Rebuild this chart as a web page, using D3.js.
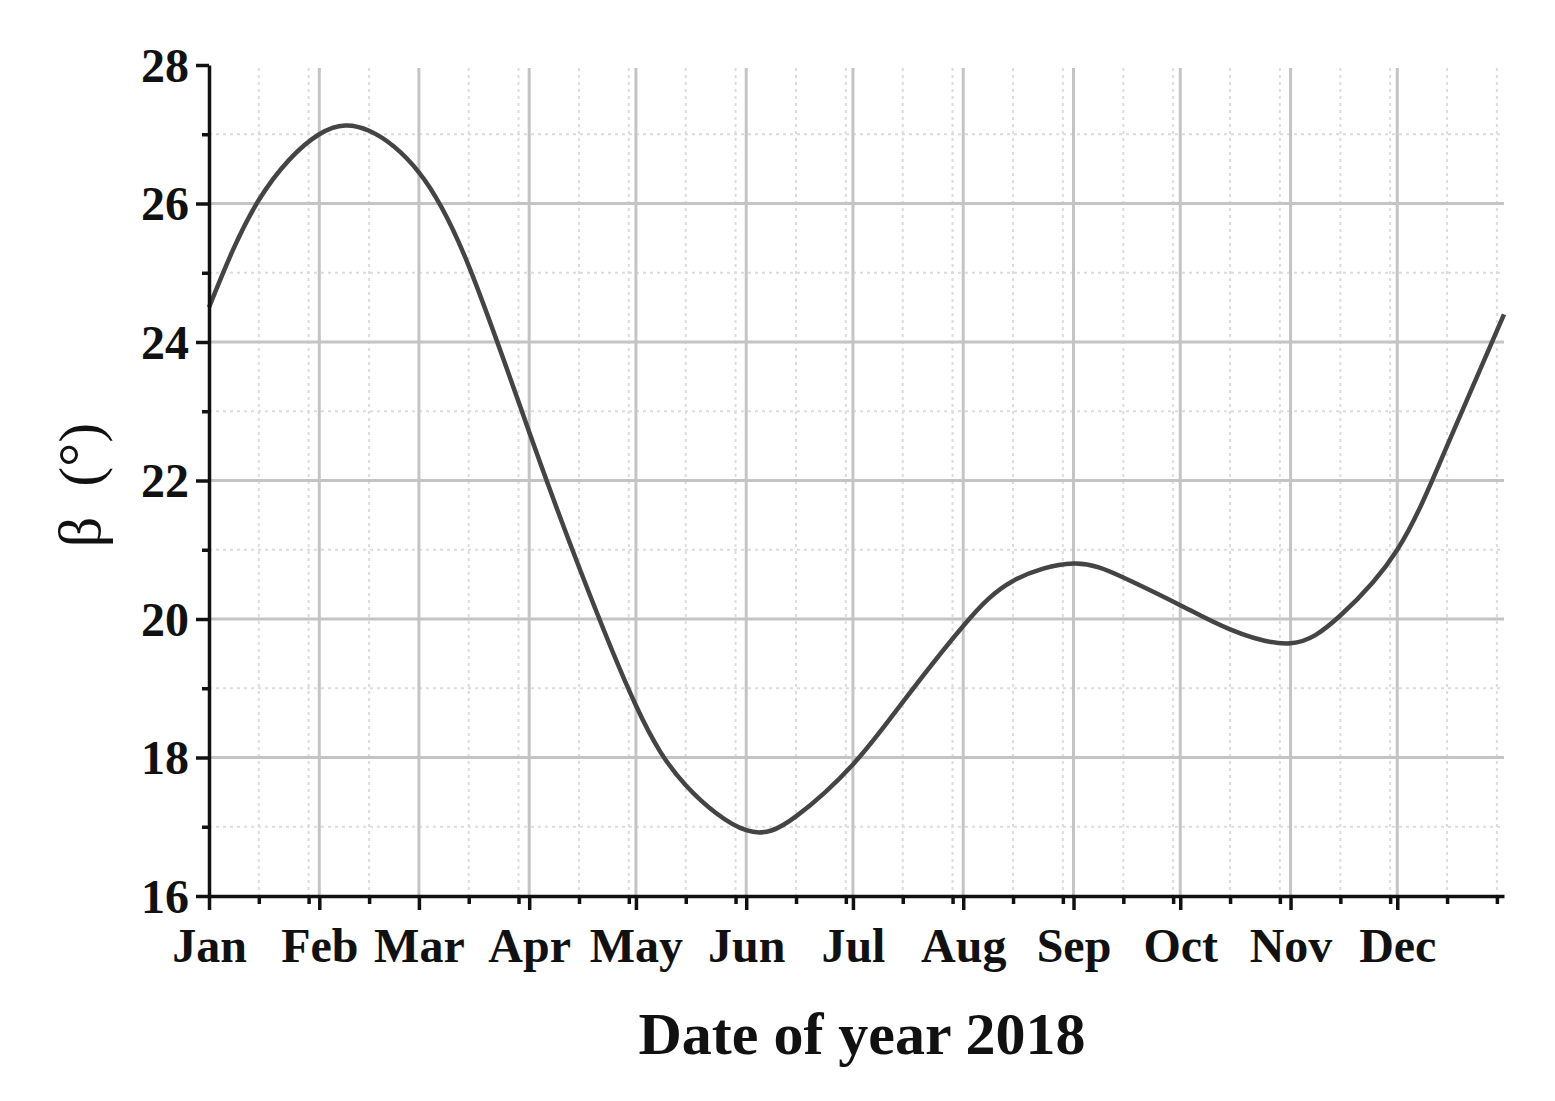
<!DOCTYPE html>
<html>
<head>
<meta charset="utf-8">
<script src="https://cdn.jsdelivr.net/npm/d3@7"></script>
<style>
  html, body { margin: 0; padding: 0; background: #fff; }
  svg { display: block; }
</style>
</head>
<body>
<svg id="chart" width="1555" height="1101"></svg>
<script>
// ---- data ----
const dates = [
  "2018-01-01","2018-01-15","2018-02-01","2018-02-15","2018-03-01","2018-03-15",
  "2018-04-01","2018-04-15","2018-05-01","2018-05-15","2018-06-01","2018-06-15",
  "2018-07-01","2018-07-15","2018-08-01","2018-08-15","2018-09-01","2018-09-15",
  "2018-10-01","2018-10-15","2018-11-01","2018-11-15","2018-12-01","2018-12-15","2018-12-31"
];
const betaValues = [
  24.5, 26.05, 27.0, 27.05, 26.45, 25.1,
  22.7, 20.75, 18.75, 17.6, 16.95, 17.15,
  17.9, 18.8, 19.9, 20.55, 20.8, 20.6,
  20.2, 19.85, 19.65, 20.05, 21.0, 22.5, 24.4
];
const monthLabels = ["Jan","Feb","Mar","Apr","May","Jun","Jul","Aug","Sep","Oct","Nov","Dec"];
const yTicks = [16, 18, 20, 22, 24, 26, 28];
const yMinorTicks = [17, 19, 21, 23, 25, 27];
const xTitle = "Date of year 2018";
const yTitle = "β  (°)";

(function () {
// ---- layout ----
const svg = d3.select("#chart");
const pLeft = 209, pRight = 1504, pTop = 65, pBottom = 896;
const parse = d3.utcParse("%Y-%m-%d");
const data = dates.map((d, i) => ({ date: parse(d), v: betaValues[i] }));

const x = d3.scaleUtc().domain([parse("2018-01-01"), parse("2018-12-31")]).range([pLeft, pRight]);
const y = d3.scaleLinear().domain([16, 28]).range([pBottom, pTop]);

const monthStarts = monthLabels.map((m, i) => new Date(Date.UTC(2018, i, 1)));
const minorDates = d3.utcDay.every(14).range(parse("2018-01-01"), parse("2019-01-01"))
  .filter(d => d.getUTCDate() !== 1);

const font = "'Liberation Serif', 'Times New Roman', serif";

// ---- grid ----
const grid = svg.append("g");
grid.selectAll("line.vminor").data(minorDates).enter().append("line")
  .attr("x1", d => x(d)).attr("x2", d => x(d))
  .attr("y1", pTop + 3).attr("y2", pBottom)
  .attr("stroke", "#dcdcdc").attr("stroke-width", 2).attr("stroke-dasharray", "3,4");
grid.selectAll("line.hminor").data(yMinorTicks).enter().append("line")
  .attr("x1", pLeft).attr("x2", pRight)
  .attr("y1", d => y(d)).attr("y2", d => y(d))
  .attr("stroke", "#dcdcdc").attr("stroke-width", 2).attr("stroke-dasharray", "3,4");
grid.selectAll("line.vmajor").data(monthStarts.slice(1)).enter().append("line")
  .attr("x1", d => x(d)).attr("x2", d => x(d))
  .attr("y1", pTop + 3).attr("y2", pBottom)
  .attr("stroke", "#c4c4c4").attr("stroke-width", 3);
grid.selectAll("line.hmajor").data(yTicks.filter(v => v > 16 && v < 28)).enter().append("line")
  .attr("x1", pLeft).attr("x2", pRight)
  .attr("y1", d => y(d)).attr("y2", d => y(d))
  .attr("stroke", "#c4c4c4").attr("stroke-width", 3);

// ---- curve ----
const line = d3.line().x(d => x(d.date)).y(d => y(d.v)).curve(d3.curveNatural);
svg.append("path").datum(data)
  .attr("d", line).attr("fill", "none")
  .attr("stroke", "#444").attr("stroke-width", 4.5).attr("stroke-linejoin", "round");

// ---- axes ----
const yMinorAxis = svg.append("g").attr("transform", `translate(${pLeft},0)`)
  .call(d3.axisLeft(y).tickValues(yMinorTicks).tickSize(7).tickFormat(""));
const yAxis = svg.append("g").attr("transform", `translate(${pLeft},0)`)
  .call(d3.axisLeft(y).tickValues(yTicks).tickSize(13).tickSizeOuter(0).tickPadding(8));
const xMinorAxis = svg.append("g").attr("transform", `translate(0,${pBottom})`)
  .call(d3.axisBottom(x).tickValues(minorDates).tickSize(8).tickFormat(""));
const xAxis = svg.append("g").attr("transform", `translate(0,${pBottom})`)
  .call(d3.axisBottom(x).tickValues(monthStarts).tickSize(14).tickSizeOuter(0)
    .tickFormat((d, i) => monthLabels[i]));

[yMinorAxis, yAxis, xMinorAxis, xAxis].forEach(g => {
  g.selectAll("path.domain").attr("stroke", "#111").attr("stroke-width", 3.5);
  g.selectAll(".tick line").attr("stroke", "#111").attr("stroke-width", 3.5);
});
yMinorAxis.select("path.domain").remove();
xMinorAxis.select("path.domain").remove();

yAxis.selectAll(".tick text")
  .attr("font-family", font).attr("font-weight", "bold").attr("font-size", 48)
  .attr("fill", "#111").attr("dy", "0.34em").attr("x", -20);
xAxis.selectAll(".tick text")
  .attr("font-family", font).attr("font-weight", "bold").attr("font-size", 48)
  .attr("fill", "#111").attr("dy", 0).attr("y", 66);

// ---- titles ----
svg.append("text")
  .attr("x", 862).attr("y", 1054).attr("text-anchor", "middle")
  .attr("font-family", font).attr("font-weight", "bold").attr("font-size", 60)
  .attr("fill", "#111").text(xTitle);
svg.append("text")
  .attr("transform", "translate(100,485) rotate(-90)").attr("text-anchor", "middle")
  .attr("font-family", font).attr("font-size", 60)
  .attr("fill", "#111").style("white-space", "pre").text(yTitle);
})();
</script>
</body>
</html>
